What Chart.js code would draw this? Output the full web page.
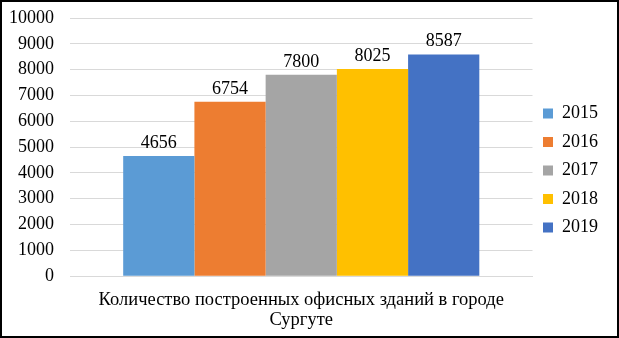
<!DOCTYPE html>
<html lang="ru">
<head>
<meta charset="UTF-8" />
<title>Офисные здания</title>
<style>
  html, body { margin: 0; padding: 0; background: #fff; }
  .frame { width: 619px; height: 338px; box-sizing: border-box; border: 2px solid #000; position: relative; }
  canvas { display: block; }
</style>
</head>
<body>
<div class="frame">
  <canvas id="myChart" width="615" height="334"></canvas>
</div>
<script src="https://cdn.jsdelivr.net/npm/chart.js"></script>
<script>
const categoryLabel = ["Количество построенных офисных зданий в городе", "Сургуте"];
const years = ["2015", "2016", "2017", "2018", "2019"];
const values = [4656, 6754, 7800, 8025, 8587];
const colors = ["#5b9bd5", "#ed7d31", "#a5a5a5", "#ffc000", "#4472c4"];

// подписи значений над столбцами
const valueLabels = {
  id: "valueLabels",
  afterDatasetsDraw(chart) {
    const ctx = chart.ctx;
    ctx.save();
    ctx.font = "18px 'Liberation Serif'";
    ctx.fillStyle = "#000";
    ctx.textAlign = "center";
    ctx.textBaseline = "bottom";
    chart.data.datasets.forEach((ds, i) => {
      const bar = chart.getDatasetMeta(i).data[0];
      ctx.fillText(ds.data[0], bar.x, bar.y - 4);
    });
    ctx.restore();
  }
};

const datasets = years.map((y, i) => ({
  label: y,
  data: [values[i]],
  backgroundColor: colors[i],
  borderWidth: 0
}));

new Chart(document.getElementById("myChart"), {
  type: "bar",
  data: { labels: [categoryLabel], datasets },
  options: {
    responsive: false,
    animation: false,
    layout: { padding: { top: 3, left: -9, right: 9, bottom: 0 } },
    datasets: { bar: { categoryPercentage: 0.77, barPercentage: 1 } },
    scales: {
      x: {
        grid: { display: false },
        border: { color: "#d9d9d9" },
        ticks: { color: "#000", font: { family: "'Liberation Serif'", size: 18.5, lineHeight: 1.13 }, padding: 5 }
      },
      y: {
        min: 0,
        max: 10000,
        // padding меток не должен сдвигать верх области графика
        afterFit: s => { s.paddingTop = 16; },
        ticks: {
          stepSize: 1000,
          autoSkip: false,
          color: "#000",
          font: { family: "'Liberation Serif'", size: 18, lineHeight: 1 },
          padding: 16,
          callback: v => String(v)
        },
        grid: { color: "#d9d9d9", drawTicks: false },
        border: { display: false }
      }
    },
    plugins: {
      legend: {
        position: "right",
        labels: {
          color: "#000",
          font: { family: "'Liberation Serif'", size: 18 },
          boxWidth: 10,
          boxHeight: 10,
          padding: 10.5
        }
      },
      tooltip: { enabled: false }
    }
  },
  plugins: [valueLabels]
});
</script>
</body>
</html>
